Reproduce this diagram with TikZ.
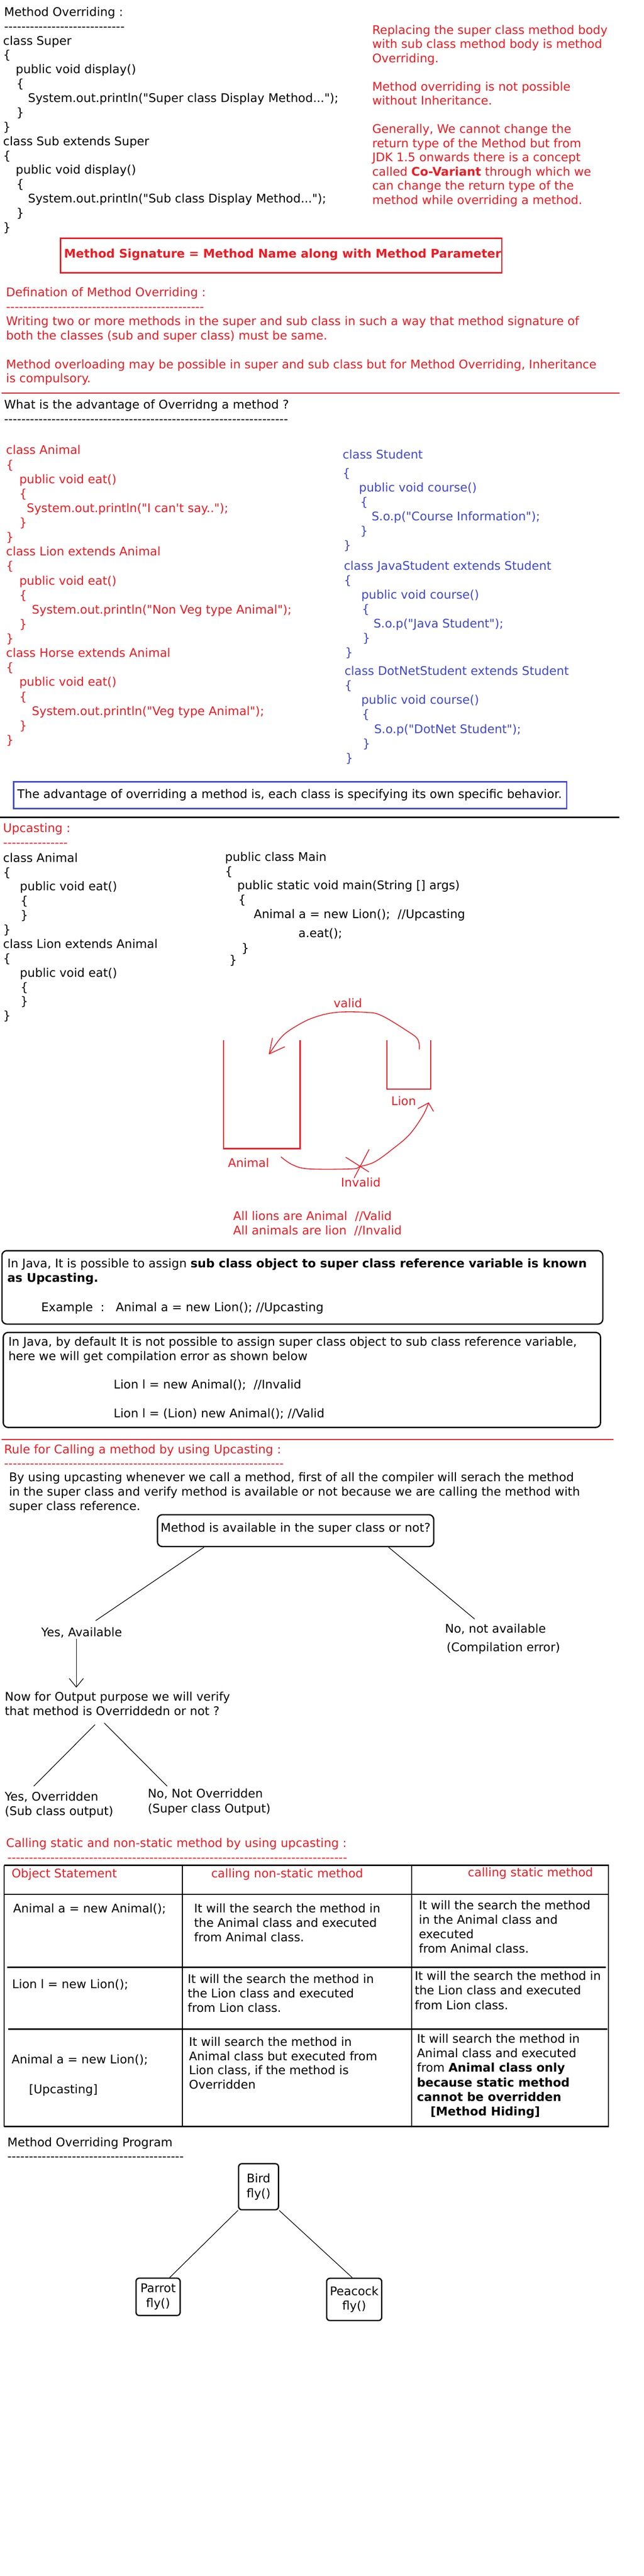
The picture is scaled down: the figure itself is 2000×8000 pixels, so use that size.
\documentclass[tikz,border=0pt]{standalone}
\usepackage{fontspec}
\setmainfont{DejaVu Sans}[Ligatures=TeXOff]
\usetikzlibrary{calc,arrows.meta}
\newdimen\px \px=0.5pt
\definecolor{pred}{HTML}{ED1C24}
\definecolor{pblue}{HTML}{3F48CC}
\newcommand\ml[2]{{\fontsize{18.5}{#1}\selectfont\begin{tabular}[t]{@{}l@{}}#2\end{tabular}}}
\newcommand\ind[1]{\hspace*{#1\px}}
\begin{document}
\begin{tikzpicture}[x=0.5pt,y=-0.5pt,
  txt/.style={anchor=base west,inner sep=0pt,outer sep=0pt,font={\fontsize{18.5}{22.5}\selectfont}},
  rtxt/.style={txt,text=pred},
  btxt/.style={txt,text=pblue},
  redrule/.style={draw=pred,line width=2pt,line cap=round},
  blackrule/.style={draw=black,line width=2.25pt},
  ubox/.style={draw=pred,line width=1.75pt},
  sketch/.style={draw=pred,line width=1.25pt,line cap=round,line join=round},
  rbox/.style={draw=black,line width=2pt,rounded corners=7.5pt},
  conn/.style={draw=black,line width=1pt},
  birdbox/.style={draw=black,line width=2pt,rounded corners=5pt,align=center,inner sep=0pt,
     font={\fontsize{18.5}{23}\selectfont}},
  tline/.style={draw=black,line width=2.25pt},
  tvline/.style={draw=black,line width=1.75pt}]
\fill[white] (0,0) rectangle (2000,8000);
\useasboundingbox (0,0) rectangle (2000,8000);

% ---------------- Section 1
\node[txt] (s1code) at (10,50) {\ml{22.3}{%
\ind{3}Method Overriding :\\
\ind{3}----------------------------\\
class Super\\
\{\\
\ind{39}public void display()\\
\ind{41}\{\\
\ind{77}System.out.println("Super class Display Method...");\\
\ind{41}\}\\
\}\\
class Sub extends Super\\
\{\\
\ind{39}public void display()\\
\ind{41}\{\\
\ind{77}System.out.println("Sub class Display Method...");\\
\ind{41}\}\\
\}}};

\node[rtxt] (s1notes) at (1156,106) {\ml{22}{%
Replacing the super class method body\\
with sub class method body is method\\
Overriding.\\
\\
Method overriding is not possible\\
without Inheritance.\\
\\
Generally, We cannot change the\\
return type of the Method but from\\
JDK 1.5 onwards there is a concept\\
called \textbf{Co-Variant} through which we\\
can change the return type of the\\
method while overriding a method.}};

\draw[draw=pred,line width=2pt] (188,740) rectangle (1558,847);
\node[rtxt,font={\fontsize{18.5}{22.5}\selectfont\bfseries}] (sig) at (199,801) {Method Signature = Method Name along with Method Parameter};

% ---------------- Section 2
\node[rtxt] (defn) at (19,921) {\ml{22.3}{%
Defination of Method Overriding :\\
----------------------------------------------\\
Writing two or more methods in the super and sub class in such a way that method signature of\\
both the classes (sub and super class) must be same.\\
\\
Method overloading may be possible in super and sub class but for Method Overriding, Inheritance\\
is compulsory.}};

\draw[redrule] (6,1221) -- (1923,1221);

\node[txt] (adv) at (13,1270) {\ml{22}{%
What is the advantage of Overridng a method ?\\
------------------------------------------------------------------}};

\node[rtxt] (animalcode) at (19,1411) {\ml{22.5}{%
class Animal\\
\{\\
\ind{41}public void eat()\\
\ind{41}\{\\
\ind{64}System.out.println("I can't say..");\\
\ind{41}\}\\
\}\\
class Lion extends Animal\\
\{\\
\ind{41}public void eat()\\
\ind{41}\{\\
\ind{80}System.out.println("Non Veg type Animal");\\
\ind{41}\}\\
\}\\
class Horse extends Animal\\
\{\\
\ind{41}public void eat()\\
\ind{41}\{\\
\ind{80}System.out.println("Veg type Animal");\\
\ind{41}\}\\
\}}};

\node[btxt] (stu0) at (1064,1425) {class Student};
\node[btxt] (stu1) at (1064,1482) {\ml{22.5}{%
\{\\
\ind{51}public void course()\\
\ind{55}\{\\
\ind{90}S.o.p("Course Information");\\
\ind{55}\}\\
\ind{3}\}}};
\node[btxt] (stu2) at (1068,1770) {\ml{22.4}{%
class JavaStudent extends Student\\
\{\\
\ind{54}public void course()\\
\ind{56}\{\\
\ind{92}S.o.p("Java Student");\\
\ind{58}\}\\
\ind{4}\}}};
\node[btxt] (stu3) at (1070,2096) {\ml{22.6}{%
class DotNetStudent extends Student\\
\{\\
\ind{52}public void course()\\
\ind{54}\{\\
\ind{92}S.o.p("DotNet Student");\\
\ind{56}\}\\
\ind{3}\}}};

\draw[draw=pblue,line width=2pt] (42,2428) rectangle (1760,2511);
\node[txt] (advtext) at (54,2479) {The advantage of overriding a method is, each class is specifying its own specific behavior.};

\draw[blackrule] (0,2538) -- (1923,2538);

% ---------------- Section 3 : Upcasting
\node[rtxt] (upc) at (10,2584) {\ml{22.5}{Upcasting :\\ ---------------}};

\node[txt] (upcode) at (10,2677) {\ml{22.3}{%
class Animal\\
\{\\
\ind{52}public void eat()\\
\ind{54}\{\\
\ind{54}\}\\
\}\\
class Lion extends Animal\\
\{\\
\ind{52}public void eat()\\
\ind{54}\{\\
\ind{54}\}\\
\}}};

\node[txt] (maincode) at (699,2674) {\ml{22.2}{%
public class Main\\
\{\\
\ind{38}public static void main(String [] args)\\
\ind{41}\{\\
\ind{89}Animal a = new Lion();\ \ //Upcasting}};
\node[txt] (aeat) at (927,2911) {a.eat();};
\node[txt] (mclose1) at (750,2957) {\}};
\node[txt] (mclose2) at (712,2995) {\}};

% sketch diagram
\draw[ubox] (695,3231) -- (695,3567) -- (932,3567) -- (932,3231);
\draw[ubox] (1201,3231) -- (1201,3383) -- (1337,3383) -- (1337,3231);
\node[rtxt] (lvalid) at (1036,3129) {valid};
\node[rtxt] (llion) at (1215,3433) {Lion};
\node[rtxt] (lanimal) at (708,3625) {Animal};
\node[rtxt] (linvalid) at (1059,3685) {Invalid};
\draw[sketch] plot[smooth,tension=0.6] coordinates {(1302,3258) (1297,3227) (1262,3200) (1185,3154) (1138,3144) (1044,3144) (969,3162) (908,3194) (872,3223) (836,3273)};
\draw[sketch] (846,3224) -- (836,3273) -- (884,3251);
\draw[sketch] plot[smooth,tension=0.6] coordinates {(873,3593) (908,3617) (959,3630) (1092,3630) (1118,3623) (1164,3608) (1221,3567) (1272,3523) (1313,3465) (1331,3425)};
\draw[sketch] (1298,3443) -- (1331,3425) -- (1346,3451);
\draw[sketch] (1074,3594) -- (1145,3639);
\draw[sketch] (1146,3570) -- (1100,3658);

\node[rtxt] (alllions) at (724,3790) {\ml{22}{%
All lions are Animal\ \ //Valid\\
All animals are lion\ \ //Invalid}};

\draw[rbox] (6,3884) rectangle (1872,4112);
\node[txt] (up1) at (23,3937) {\ml{22.5}{%
In Java, It is possible to assign \textbf{sub class object to super class reference variable is known}\\
\textbf{as Upcasting.}}};
\node[txt] (upex) at (128,4072) {Example\ \ :\ \ \ Animal a = new Lion(); //Upcasting};

\draw[rbox] (10,4138) rectangle (1865,4433);
\node[txt] (down1) at (26,4180) {\ml{22}{%
In Java, by default It is not possible to assign super class object to sub class reference variable,\\
here we will get compilation error as shown below}};
\node[txt] (down2) at (353,4313) {Lion l = new Animal();\ \ //Invalid};
\node[txt] (down3) at (353,4403) {Lion l = (Lion) new Animal(); //Valid};

\draw[redrule] (6,4470) -- (1904,4470);

% ---------------- Section 4 : rule
\node[rtxt] (rule) at (13,4514) {\ml{22}{%
Rule for Calling a method by using Upcasting :\\
-----------------------------------------------------------------}};
\node[txt] (ruletext) at (28,4601) {\ml{22.5}{%
By using upcasting whenever we call a method, first of all the compiler will serach the method\\
in the super class and verify method is available or not because we are calling the method with\\
super class reference.}};

\node[draw=black,line width=2pt,rounded corners=7.5pt,anchor=base west,inner xsep=5pt,inner ysep=0pt,
      text height=27pt,text depth=22.5pt,font={\fontsize{18.5}{22.5}\selectfont}] (q) at (487,4758)
      {Method is available in the super class or not?};

\node[txt] (yes) at (128,5082) {Yes, Available};
\node[txt] (no) at (1382,5071) {No, not available};
\node[txt] (noerr) at (1387,5129) {(Compilation error)};
\coordinate (yesTop) at (297,5033);
\coordinate (noTop) at (1474,5028);
\draw[conn] ($(q.south west)!0.17!(q.south east)$) -- (yesTop);
\draw[conn] ($(q.south west)!0.835!(q.south east)$) -- (noTop);

\coordinate (yesBot) at (237,5089);
\coordinate (nowTop) at (237,5241);
\draw[conn,-{Straight Barb[length=13.5pt,width=22pt,line width=1pt]}] (yesBot) -- (nowTop);

\node[txt] (now) at (15,5283) {\ml{22}{%
Now for Output purpose we will verify\\
that method is Overriddedn or not ?}};
\coordinate (nowBotL) at (295,5356);
\coordinate (nowBotR) at (324,5351);
\coordinate (ovTop) at (105,5547);
\coordinate (novTop) at (519,5547);
\draw[conn] (nowBotL) -- (ovTop);
\draw[conn] (nowBotR) -- (novTop);

\node[txt] (ov) at (15,5592) {\ml{22.5}{Yes, Overridden\\ (Sub class output)}};
\node[txt] (nov) at (459,5583) {\ml{23.5}{No, Not Overridden\\ (Super class Output)}};

% ---------------- Section 5 : table
\node[rtxt] (calling) at (19,5737) {\ml{22}{%
Calling static and non-static method by using upcasting :\\
\ind{4}-------------------------------------------------------------------------------}};

\draw[tvline] (13,5793) -- (13,6604);
\draw[tvline] (567,5793) -- (567,6604);
\draw[tvline] (1279,5793) -- (1279,6604);
\draw[tvline] (1889,5793) -- (1889,6604);
\draw[tline] (13,5793) -- (1891,5793);
\draw[tline] (13,5883) -- (1891,5883);
\draw[tline] (23,6110) -- (1882,6110);
\draw[tline] (26,6302) -- (1887,6302);
\draw[tline] (13,6604) -- (1891,6604);

\node[rtxt] (h1) at (36,5831) {Object Statement};
\node[rtxt] (h2) at (656,5831) {calling non-static method};
\node[rtxt] (h3) at (1453,5828) {calling static method};

\node[txt] (r1a) at (41,5940) {Animal a = new Animal();};
\node[txt] (r1b) at (603,5940) {\ml{22.5}{%
It will the search the method in\\
the Animal class and executed\\
from Animal class.}};
\node[txt] (r1c) at (1301,5931) {\ml{22.3}{%
It will the search the method\\
in the Animal class and\\
executed\\
from Animal class.}};

\node[txt] (r2a) at (38,6175) {Lion l = new Lion();};
\node[txt] (r2b) at (583,6159) {\ml{22.5}{%
It will the search the method in\\
the Lion class and executed\\
from Lion class.}};
\node[txt] (r2c) at (1288,6150) {\ml{22.5}{%
It will the search the method in\\
the Lion class and executed\\
from Lion class.}};

\node[txt] (r3a) at (36,6409) {Animal a = new Lion();};
\node[txt] (r3a2) at (90,6501) {[Upcasting]};
\node[txt] (r3b) at (587,6354) {\ml{22.2}{%
It will search the method in\\
Animal class but executed from\\
Lion class, if the method is\\
Overridden}};
\node[txt] (r3c) at (1295,6345) {\ml{22.5}{%
It will search the method in\\
Animal class and executed\\
from \textbf{Animal class only}\\
\textbf{because static method}\\
\textbf{cannot be overridden}\\
\ind{42}\textbf{[Method Hiding]}}};

% ---------------- Section 6 : program
\node[txt] (prog) at (23,6666) {\ml{22}{%
Method Overriding Program\\
-----------------------------------------}};

\node[birdbox,minimum width=62pt,minimum height=71.5pt] (bird) at (803,6791) {Bird\\ fly()};
\node[birdbox,minimum width=68.5pt,minimum height=58pt] (parrot) at (491,7133) {Parrot\\ fly()};
\node[birdbox,minimum width=85.5pt,minimum height=65.5pt] (peacock) at (1100,7141) {Peacock\\ fly()};
\draw[conn] (bird.south west) -- (parrot.59);
\draw[conn] (bird.south east) -- (peacock.95);
\end{tikzpicture}
\end{document}
